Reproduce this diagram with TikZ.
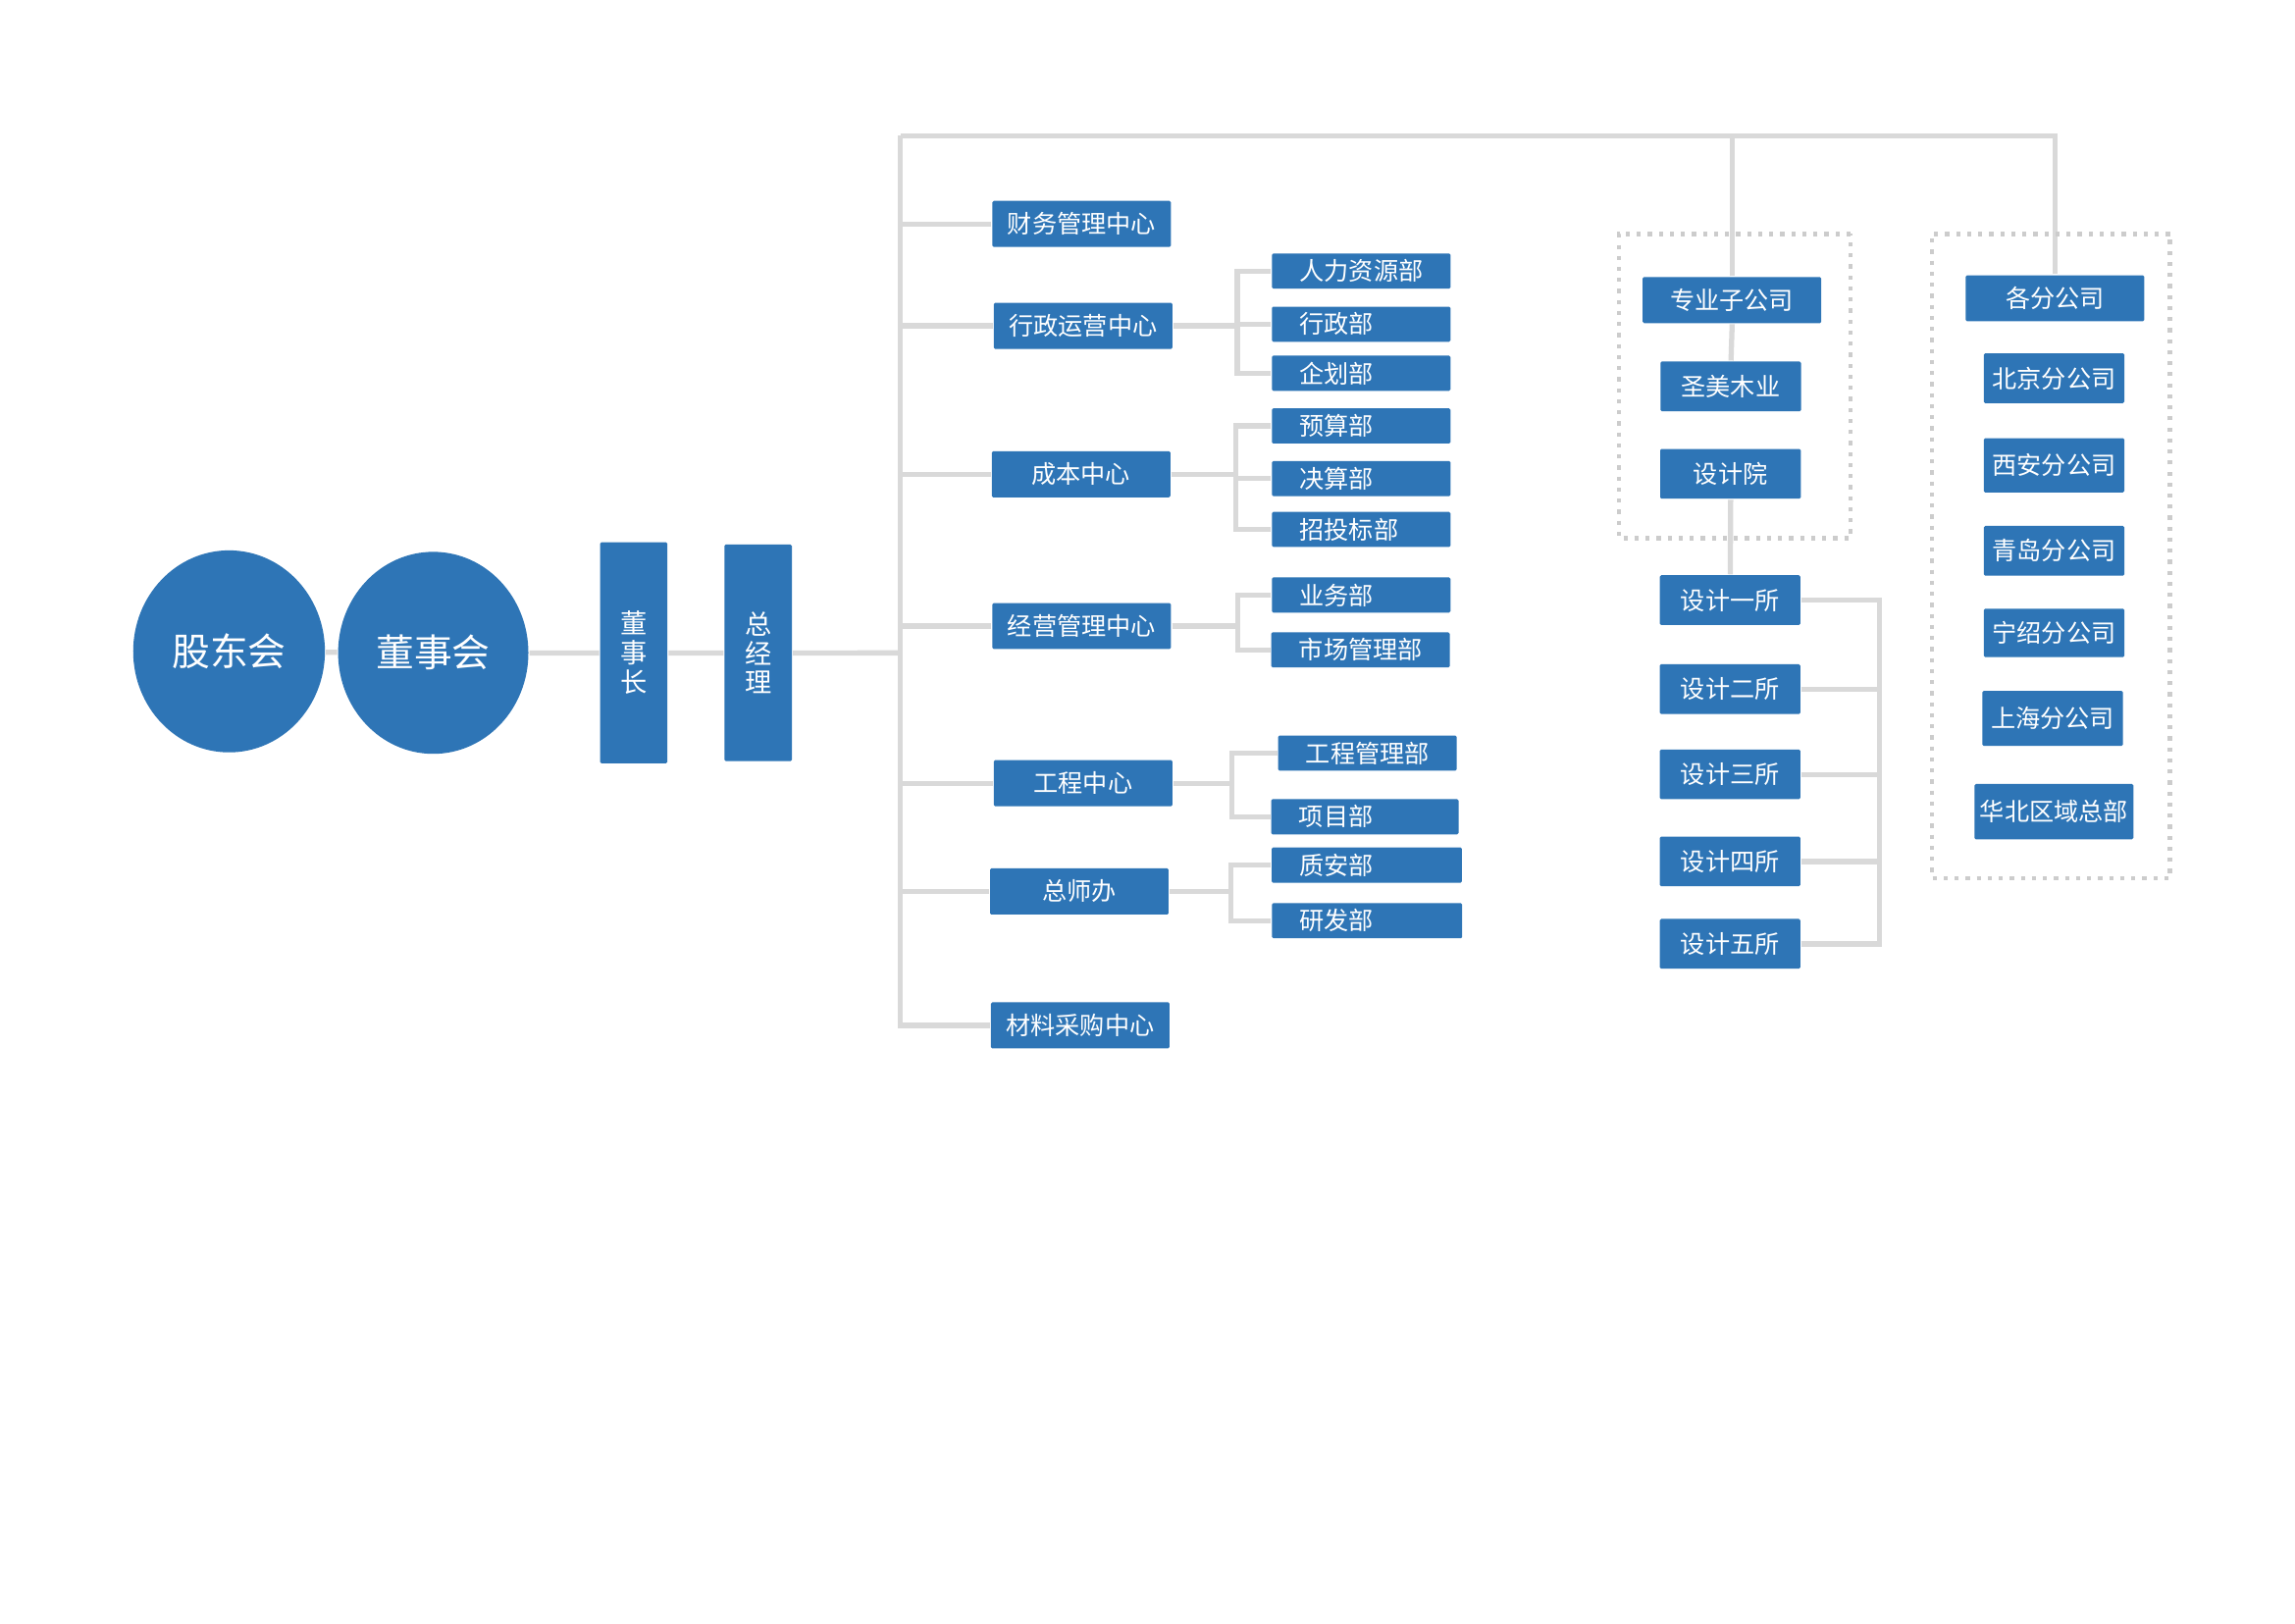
\documentclass[tikz,border=0pt]{standalone}
\usepackage{fontspec}
\newfontfamily\cjk{Noto Sans CJK SC}
\usepackage{tikz}
\usetikzlibrary{shapes.geometric, positioning, backgrounds}
\definecolor{orgblue}{HTML}{2E75B6}

\begin{document}
\begin{tikzpicture}[scale=1.4917, transform shape,
  box/.style={rectangle, fill=orgblue, text=white, rounded corners=0.4pt, inner sep=0pt, font=\cjk\fontsize{4.8}{5.5}\selectfont},
  dept/.style={box, minimum width=1.22cm, minimum height=0.315cm},
  subdept/.style={box, minimum height=0.24cm, inner xsep=0.19cm, text width=0.84cm, align=left},
  cobox/.style={box, minimum width=0.96cm, minimum height=0.34cm},
  vbox/.style={box, minimum width=0.46cm, align=center, font=\cjk\fontsize{5.2}{5.7}\selectfont},
  board/.style={ellipse, fill=orgblue, text=white, inner sep=0pt, font=\cjk\fontsize{7.4}{8}\selectfont},
  grp/.style={rectangle, draw=gray!40, line width=1.3pt, dash pattern=on 1.2pt off 2pt},
  link/.style={draw=gray!30, line width=1.5pt},
]
\useasboundingbox (0,0) rectangle (15.68,-11.09);

\node[board, minimum width=1.31cm, minimum height=1.38cm] (gdh) at (1.565,-4.45) {股东会};
\node[board, minimum width=1.30cm, minimum height=1.38cm] (dsh) at (2.96,-4.46) {董事会};
\node[vbox, minimum height=1.51cm] (dsz) at (4.33,-4.46) {董\\事\\长};
\node[vbox, minimum height=1.48cm] (zjl) at (5.18,-4.46) {总\\经\\理};

\coordinate (top) at (6.15,-0.927);

\node[dept] (cw)  at (7.39,-1.53)  {财务管理中心};
\node[dept] (xz)  at (7.40,-2.226) {行政运营中心};
\node[dept] (cb)  at (7.386,-3.24) {成本中心};
\node[dept] (jy)  at (7.39,-4.277) {经营管理中心};
\node[dept] (gc)  at (7.40,-5.35)  {工程中心};
\node[dept] (zsb) at (7.374,-6.09) {总师办};
\node[dept] (cl)  at (7.38,-7.005) {材料采购中心};

\node[subdept] (rl)   at (9.30,-1.852) {人力资源部};
\node[subdept] (xzb)  at (9.30,-2.215) {行政部};
\node[subdept] (qh)   at (9.30,-2.55)  {企划部};
\node[subdept] (ys)   at (9.30,-2.91)  {预算部};
\node[subdept] (js)   at (9.30,-3.27)  {决算部};
\node[subdept] (ztb)  at (9.30,-3.617) {招投标部};
\node[subdept] (yw)   at (9.30,-4.065) {业务部};
\node[subdept] (sc)   at (9.295,-4.44) {市场管理部};
\node[subdept] (gcgl) at (9.342,-5.145) {工程管理部};
\node[subdept, text width=0.90cm] (xm) at (9.325,-5.58) {项目部};
\node[subdept, text width=0.92cm] (za) at (9.338,-5.91) {质安部};
\node[subdept, text width=0.92cm] (yf) at (9.34,-6.29)  {研发部};

\node[grp, minimum width=1.584cm, minimum height=2.078cm] (zygrp) at (11.852,-2.637) {};
\node[grp, minimum width=1.626cm, minimum height=4.402cm] (fggrp) at (14.013,-3.799) {};

\node[dept] (zyz) at (11.833,-2.05) {专业子公司};
\node[cobox] (smy) at (11.825,-2.64)  {圣美木业};
\node[cobox] (sjy) at (11.823,-3.237) {设计院};
\node[cobox] (sj1) at (11.82,-4.10)  {设计一所};
\node[cobox] (sj2) at (11.82,-4.708) {设计二所};
\node[cobox] (sj3) at (11.82,-5.29)  {设计三所};
\node[cobox] (sj4) at (11.82,-5.885) {设计四所};
\node[cobox] (sj5) at (11.82,-6.448) {设计五所};

\node[dept] (gfgs) at (14.04,-2.038) {各分公司};
\node[cobox] (bj) at (14.034,-2.584) {北京分公司};
\node[cobox, minimum height=0.37cm] (xa) at (14.034,-3.179) {西安分公司};
\node[cobox] (qd) at (14.034,-3.763) {青岛分公司};
\node[cobox, minimum height=0.33cm] (ns) at (14.034,-4.324) {宁绍分公司};
\node[cobox, minimum height=0.377cm] (sh) at (14.024,-4.908) {上海分公司};
\node[cobox, minimum width=1.085cm, minimum height=0.378cm] (hb) at (14.033,-5.545) {华北区域总部};

\begin{scope}[on background layer]
\fill[white] (0,0) rectangle (15.68,-11.09);
\draw[link] (gdh) -- (dsh) -- (dsz) -- (zjl) -- (zjl -| top);
\draw[link] (top) |- (cl.west);
\draw[link] (top) -| (gfgs.north);
\draw[link] (zyz.north) -- (zyz.north |- top);
\foreach \n in {cw,xz,cb,jy,gc,zsb}
  \draw[link] (\n.west) -- (\n.west -| top);
\foreach \n in {rl,xzb,qh}
  \draw[link] (xz.east) -- ++(0.435,0) |- (\n.west);
\foreach \n in {ys,js,ztb}
  \draw[link] (cb.east) -- ++(0.44,0) |- (\n.west);
\foreach \n in {yw,sc}
  \draw[link] (jy.east) -- ++(0.45,0) |- (\n.west);
\foreach \n in {gcgl,xm}
  \draw[link] (gc.east) -- ++(0.40,0) |- (\n.west);
\foreach \n in {za,yf}
  \draw[link] (zsb.east) -- ++(0.42,0) |- (\n.west);
\draw[link] (zyz.south) -- (smy.north);
\draw[link] (sjy.south) -- (sj1.north);
\draw[link] (sj1.east) -- ++(0.53,0) coordinate (sjr) |- (sj5.east);
\foreach \n in {sj2,sj3,sj4}
  \draw[link] (\n.east) -- (\n.east -| sjr);
\end{scope}
\end{tikzpicture}
\end{document}
